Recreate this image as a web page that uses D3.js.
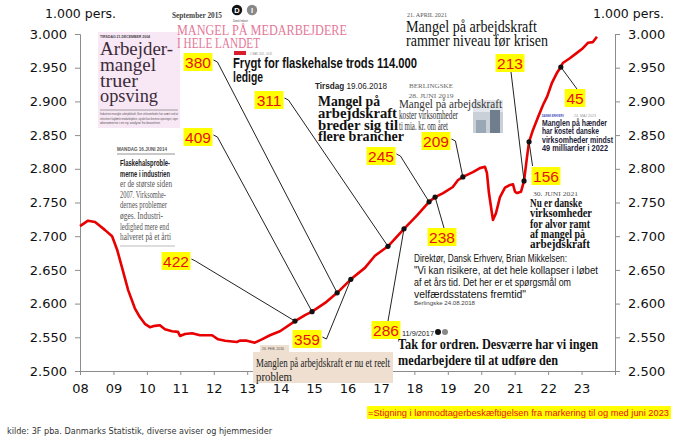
<!DOCTYPE html>
<html>
<head>
<meta charset="utf-8">
<script src="https://cdn.jsdelivr.net/npm/d3@7"></script>
<style>
  body { margin: 0; background: #fff; }
</style>
</head>
<body>
<div id="chart"></div>
<script>
// lønmodtagere, 1.000 pers.
const years = [2008.00, 2008.24, 2008.45, 2008.60, 2008.75, 2008.96, 2009.11, 2009.26, 2009.44, 2009.64, 2009.79, 2009.94,
  2010.09, 2010.24, 2010.39, 2010.54, 2010.75, 2010.93, 2010.99, 2011.14, 2011.35, 2011.59, 2011.95,
  2012.13, 2012.34, 2012.69, 2012.78, 2012.99, 2013.23, 2013.44, 2013.68, 2013.98, 2014.43, 2014.73, 2014.94,
  2015.33, 2015.69, 2016.10, 2016.52, 2016.82, 2017.21, 2017.69, 2018.08, 2018.44, 2018.62, 2018.86,
  2019.15, 2019.30, 2019.45, 2019.75, 2019.96, 2020.11, 2020.17, 2020.23, 2020.32, 2020.35, 2020.44, 2020.56,
  2020.71, 2020.86, 2020.95, 2021.01, 2021.07, 2021.19, 2021.28, 2021.37, 2021.43, 2021.55, 2021.70, 2021.85,
  2021.97, 2022.11, 2022.26, 2022.38, 2022.44, 2022.65, 2022.86, 2023.04, 2023.19, 2023.34, 2023.46];
const values = [2715, 2723, 2721, 2715, 2709, 2700, 2680, 2653, 2620, 2593, 2580, 2570,
  2565, 2567, 2568, 2562, 2559, 2558, 2552, 2555, 2556, 2553, 2553,
  2547, 2545, 2543, 2545, 2545, 2542, 2547, 2553, 2559, 2574, 2583, 2588,
  2601, 2616, 2636, 2653, 2671, 2685, 2711, 2731, 2751, 2758, 2764,
  2773, 2783, 2788, 2795, 2801, 2803, 2794, 2764, 2734, 2724, 2734, 2758,
  2772, 2776, 2777, 2766, 2764, 2766, 2782, 2818, 2840, 2858, 2877, 2895,
  2907, 2927, 2942, 2951, 2957, 2964, 2972, 2979, 2987, 2988, 2996];

// markeringer: stigning fra markering til juni 2023
const markYears  = [2014.43, 2014.94, 2015.69, 2016.10, 2017.21, 2017.69, 2018.44, 2018.62, 2019.45, 2021.28, 2021.43, 2022.38];
const markValues = [2574, 2588, 2616, 2636, 2685, 2711, 2751, 2758, 2788, 2782, 2840, 2951];
const markLabels = ["422", "409", "380", "359", "311", "286", "245", "238", "209", "213", "156", "45"];

const yTicks = [2500, 2550, 2600, 2650, 2700, 2750, 2800, 2850, 2900, 2950, 3000];
const xTicks = [2008, 2009, 2010, 2011, 2012, 2013, 2014, 2015, 2016, 2017, 2018, 2019, 2020, 2021, 2022, 2023];
const xTickLabels = ["08", "09", "10", "11", "12", "13", "14", "15", "16", "17", "18", "19", "20", "21", "22", "23"];

// where the yellow labels sit (pixels) and from which side the leader leaves
const callouts = [
  {cx: 176, cy: 261, side: "r"}, {cx: 198, cy: 137, side: "r"}, {cx: 198, cy: 62, side: "r"},
  {cx: 307, cy: 339, side: "r"}, {cx: 269, cy: 100, side: "r"}, {cx: 386, cy: 330, side: "t"},
  {cx: 381, cy: 156, side: "r"}, {cx: 442, cy: 237, side: "t"}, {cx: 436, cy: 141, side: "r"},
  {cx: 510, cy: 63, side: "b"}, {cx: 546, cy: 176, side: "tl"}, {cx: 575, cy: 98, side: "t"}
];

const W = 680, H = 444;
const margin = {top: 34, right: 65, bottom: 73, left: 80};

const SANS = "'Liberation Sans', Arial, sans-serif";
const NARROW = "'Liberation Sans Narrow', 'Liberation Sans', Arial, sans-serif";
const SERIF = "'Liberation Serif', 'Times New Roman', serif";
const AXISF = "'DejaVu Sans', Verdana, sans-serif";

const svg = d3.select("#chart").append("svg")
  .attr("width", W).attr("height", H)
  .style("background", "#fff");

const x = d3.scaleLinear().domain([2008, 2024]).range([margin.left, W - margin.right]);
const y = d3.scaleLinear().domain([2500, 3000]).range([H - margin.bottom, margin.top]);

const dk = d3.formatLocale({decimal: ",", thousands: ".", grouping: [3], currency: ["", " kr."]});
const fmt = dk.format(",.0f");

// small text helper
function txt(g, tx, ty, s, o) {
  o = o || {};
  const t = g.append("text")
    .attr("x", tx).attr("y", ty)
    .style("font-family", o.font || SANS)
    .style("font-size", (o.size || 10) + "px")
    .style("font-weight", o.weight || "normal")
    .style("fill", o.fill || "#000")
    .attr("text-anchor", o.anchor || "start")
    .text(s);
  if (o.len) t.attr("textLength", o.len).attr("lengthAdjust", "spacingAndGlyphs");
  return t;
}

// ---- axes
const axisColor = "#8c8c8c";

const yl = svg.append("g")
  .attr("transform", `translate(${margin.left},0)`)
  .call(d3.axisLeft(y).tickValues(yTicks).tickFormat(fmt).tickSizeOuter(0).tickSize(5).tickPadding(8));
const yr = svg.append("g")
  .attr("transform", `translate(${W - margin.right},0)`)
  .call(d3.axisRight(y).tickValues(yTicks).tickFormat(fmt).tickSizeOuter(0).tickSize(5).tickPadding(8));
const xa = svg.append("g")
  .attr("transform", `translate(0,${H - margin.bottom})`)
  .call(d3.axisBottom(x).tickValues(xTicks).tickFormat((d, i) => xTickLabels[i]).tickSizeOuter(0).tickSize(4).tickPadding(9));

[yl, yr, xa].forEach(a => {
  a.select(".domain").attr("stroke", axisColor);
  a.selectAll(".tick line").attr("stroke", axisColor);
  a.selectAll("text")
    .style("font-family", AXISF)
    .style("font-size", "13px")
    .style("fill", "#111");
});

txt(svg, 45, 18, "1.000 pers.", {font: AXISF, size: 12.5, fill: "#111"});
txt(svg, 593, 18, "1.000 pers.", {font: AXISF, size: 12.5, fill: "#111"});

// ---- clippings (behind the line)
const clip = svg.append("g");

// Arbejdermangel truer opsving (2004)
clip.append("rect").attr("x", 98).attr("y", 32).attr("width", 82).attr("height", 96).attr("fill", "#f8e7f4");
txt(clip, 100, 37.5, "TIRSDAG 21.DECEMBER 2004", {size: 4, weight: "bold", fill: "#444", len: 50});
const pinkInk = "#3b2c3b";
txt(clip, 100, 55, "Arbejder-", {font: SERIF, size: 19, fill: pinkInk, len: 73});
txt(clip, 100, 71, "mangel", {font: SERIF, size: 19, fill: pinkInk, len: 56});
txt(clip, 100, 87, "truer", {font: SERIF, size: 19, fill: pinkInk, len: 38});
txt(clip, 100, 102, "opsving", {font: SERIF, size: 19, fill: pinkInk, len: 58});
clip.append("line").attr("x1", 100).attr("x2", 178).attr("y1", 110).attr("y2", 110).attr("stroke", "#888").attr("stroke-width", 0.8);
txt(clip, 100, 115, "Industrien mangler arbejdskraft, flere virksomheder har svært ved at", {size: 3.6, fill: "#555", len: 78});
txt(clip, 100, 119.5, "rekruttere faglærte medarbejdere, og det kan bremse opsvinget, siger", {size: 3.6, fill: "#555", len: 78});
txt(clip, 100, 124, "økonomerne i en ny analyse fra branchen", {size: 3.6, fill: "#555", len: 60});

// Flaskehalsproblemerne (2014)
txt(clip, 117, 151, "MANDAG 16.JUNI 2014", {size: 4.5, weight: "bold", fill: "#555", len: 50});
clip.append("line").attr("x1", 117).attr("x2", 175).attr("y1", 154).attr("y2", 154).attr("stroke", "#777").attr("stroke-width", 0.8);
const flask = ["Flaskehalsproble-", "merne i industrien", "er de største siden", "2007. Virksomhe-",
  "dernes problemer", "øges. Industri-", "ledighed mere end", "halveret på et årti"];
const flaskLen = [50, 50, 52, 46, 47, 43, 49, 51];
flask.forEach((s, i) => {
  const bold = i < 2;
  txt(clip, 120, 166 + i * 10.6, s, {font: bold ? NARROW : SERIF, size: 9.5, weight: bold ? "bold" : "normal",
    fill: bold ? "#222" : "#555", len: flaskLen[i]});
});
clip.append("line").attr("x1", 120).attr("x2", 175).attr("y1", 246).attr("y2", 246).attr("stroke", "#aaa").attr("stroke-width", 0.8);

// DI, september 2015
txt(clip, 172, 18, "September 2015", {font: SERIF, size: 8.5, weight: "bold", fill: "#444", len: 50});
clip.append("circle").attr("cx", 237).attr("cy", 10).attr("r", 5.2).attr("fill", "#111");
clip.append("circle").attr("cx", 252).attr("cy", 10).attr("r", 5.2).attr("fill", "#888");
txt(clip, 237, 13, "D", {size: 7.5, weight: "bold", fill: "#fff", anchor: "middle"});
txt(clip, 252, 13, "I", {size: 7.5, weight: "bold", fill: "#fff", anchor: "middle"});
txt(clip, 233, 21.5, "Dansk Industri", {size: 3.5, fill: "#444", len: 15});
txt(clip, 177, 35, "MANGEL PÅ MEDARBEJDERE", {font: SERIF, size: 15, fill: "#e4789a", len: 170});
txt(clip, 177, 48, "I HELE LANDET", {font: SERIF, size: 15, fill: "#e4789a", len: 83});

// Frygt for flaskehalse (2015)
clip.append("rect").attr("x", 234).attr("y", 51).attr("width", 12).attr("height", 4).attr("fill", "#d81e2a");
txt(clip, 250, 55, "2. MAR. 2015 - 16:35", {size: 3.5, fill: "#888", len: 22});
txt(clip, 233, 68, "Frygt for flaskehalse trods 114.000", {font: NARROW, size: 15, weight: "bold", fill: "#111", len: 184});
txt(clip, 233, 82, "ledige", {font: NARROW, size: 15, weight: "bold", fill: "#111", len: 30});

// Tirsdag 19.06.2018
const tg = txt(clip, 315, 88.5, "", {size: 9, fill: "#222"});
tg.append("tspan").style("font-weight", "bold").text("Tirsdag");
tg.append("tspan").text(" 19.06.2018");
tg.attr("textLength", 72).attr("lengthAdjust", "spacingAndGlyphs");
const tirs = ["Mangel på", "arbejdskraft", "breder sig til", "flere brancher"];
const tirsLen = [62, 79, 80, 86];
tirs.forEach((s, i) => txt(clip, 318, 106 + i * 11.8, s, {font: SERIF, size: 15, weight: "bold", fill: "#111", len: tirsLen[i]}));

// Berlingske 28. juni 2019
clip.append("rect").attr("x", 473).attr("y", 100).attr("width", 30).attr("height", 33).attr("fill", "#c9d0d8");
clip.append("rect").attr("x", 473).attr("y", 100).attr("width", 30).attr("height", 12).attr("fill", "#e3e6ea");
clip.append("rect").attr("x", 490).attr("y", 110).attr("width", 10).attr("height", 23).attr("fill", "#6f7d8d");
clip.append("rect").attr("x", 476).attr("y", 120).attr("width", 10).attr("height", 13).attr("fill", "#9aa7b4");
txt(clip, 431, 88, "BERLINGSKE", {font: SERIF, size: 7, fill: "#666", anchor: "middle", len: 44});
txt(clip, 431, 97.5, "28. JUNI 2019", {font: SERIF, size: 7, fill: "#666", anchor: "middle", len: 45});
txt(clip, 399, 107.5, "Mangel på arbejdskraft", {font: SERIF, size: 12, fill: "#333", len: 103});
txt(clip, 399, 118.5, "koster virksomheder", {font: SERIF, size: 12, fill: "#333", len: 59});
txt(clip, 399, 129.5, "ti mia. kr. om året", {font: SERIF, size: 12, fill: "#333", len: 49});

// 21. april 2021
txt(clip, 407, 17, "21. APRIL 2021", {font: SERIF, size: 6, fill: "#555", len: 40});
txt(clip, 406, 32, "Mangel på arbejdskraft", {font: SERIF, size: 16, fill: "#111", len: 131});
txt(clip, 406, 46, "rammer niveau før krisen", {font: SERIF, size: 16, fill: "#111", len: 142});

// Dansk Erhverv 24. maj 2023
txt(clip, 542, 117, "DANSK ERHVERV", {size: 4, weight: "bold", fill: "#3a46b8", len: 22});
txt(clip, 574, 117, "24. MAJ 2023", {size: 4, fill: "#999", len: 22});
const de = ["Manglen på hænder", "har kostet danske", "virksomheder mindst", "49 milliarder i 2022"];
const deLen = [65, 57, 71, 66];
de.forEach((s, i) => txt(clip, 542, 126 + i * 8.3, s, {size: 8.5, weight: "bold", fill: "#1d2238", len: deLen[i]}));

// 30. juni 2021
txt(clip, 533, 196, "30. JUNI 2021", {font: SERIF, size: 6.5, fill: "#555", len: 45});
const nu = ["Nu er danske", "virksomheder", "for alvor ramt", "af mangel på", "arbejdskraft"];
const nuLen = [52, 62, 60, 55, 60];
nu.forEach((s, i) => txt(clip, 530, 207 + i * 10.3, s, {font: SERIF, size: 12.5, weight: "bold", fill: "#111", len: nuLen[i]}));

// Brian Mikkelsen citat
const bm = ["Direktør, Dansk Erhverv, Brian Mikkelsen:", "\"Vi kan risikere, at det hele kollapser i løbet",
  "af et års tid. Det her er et spørgsmål om", "velfærdsstatens fremtid\""];
const bmLen = [153, 184, 157, 112];
bm.forEach((s, i) => txt(clip, 414, 262 + i * 12, s, {size: 10.5, fill: "#111", len: bmLen[i]}));
txt(clip, 414, 305, "Berlingske 24.08.2018", {size: 6, fill: "#444", len: 61});

// DI 11/9/2017
txt(clip, 402, 336, "11/9/2017", {size: 7.5, fill: "#222", len: 32});
clip.append("circle").attr("cx", 438).attr("cy", 332).attr("r", 3).attr("fill", "#111");
clip.append("circle").attr("cx", 445).attr("cy", 332).attr("r", 3).attr("fill", "#888");
txt(clip, 398, 349, "Tak for ordren. Desværre har vi ingen", {font: SERIF, size: 15, weight: "bold", fill: "#111", len: 200});
txt(clip, 398, 365, "medarbejdere til at udføre den", {font: SERIF, size: 15, weight: "bold", fill: "#111", len: 160});

// ---- the series
const line = d3.line()
  .x((d, i) => x(years[i]))
  .y(d => y(d));

svg.append("path")
  .datum(values)
  .attr("fill", "none")
  .attr("stroke", "#e80000")
  .attr("stroke-width", 2.6)
  .attr("stroke-linejoin", "round")
  .attr("d", line);

// tan clipping on top of the axis
const tan = svg.append("g");
tan.append("rect").attr("x", 260).attr("y", 345).attr("width", 29).attr("height", 7).attr("fill", "#eedfd0");
txt(tan, 262, 350, "26. FEB. 2016", {size: 3.5, fill: "#555", len: 22});
tan.append("rect").attr("x", 253).attr("y", 352).attr("width", 140).attr("height", 31).attr("fill", "#eedfd0");
txt(tan, 256, 367, "Manglen på arbejdskraft er nu et reelt", {font: SERIF, size: 13.5, fill: "#222", len: 134});
txt(tan, 256, 381, "problem", {font: SERIF, size: 13.5, fill: "#222", len: 36});

// ---- markers, leaders and yellow labels
const marks = markYears.map((yy, i) => ({year: yy, value: markValues[i], label: markLabels[i], c: callouts[i]}));

const lab = svg.append("g");
marks.forEach(m => {
  const mx = x(m.year), my = y(m.value);
  const w = m.label.length * 8.3 + 4, h = 18;
  const c = m.c;
  let pts;
  if (c.side === "r") pts = [[c.cx + w / 2 + 1, c.cy - 2], [c.cx + w / 2 + 5, c.cy], [mx, my]];
  else if (c.side === "t") pts = [[c.cx + 2, c.cy - h / 2], [mx, my]];
  else if (c.side === "b") pts = [[c.cx + 1, c.cy + h / 2], [mx, my]];
  else pts = [[c.cx - w / 2 + 1, c.cy - h / 2 - 1], [mx, my]];
  lab.append("path")
    .attr("d", d3.line()(pts))
    .attr("fill", "none")
    .attr("stroke", "#222")
    .attr("stroke-width", 1);
  lab.append("circle").attr("cx", mx).attr("cy", my).attr("r", 2.6).attr("fill", "#111");
  lab.append("rect")
    .attr("x", c.cx - w / 2).attr("y", c.cy - h / 2)
    .attr("width", w).attr("height", h)
    .attr("fill", "#ffff00");
  txt(lab, c.cx, c.cy + 5.5, m.label, {size: 15.5, fill: "#e8110f", anchor: "middle"});
});

// ---- footer
txt(svg, 7, 434, "kilde: 3F pba. Danmarks Statistik, diverse aviser og hjemmesider", {font: AXISF, size: 9.5, fill: "#333", len: 265});
svg.append("rect").attr("x", 367).attr("y", 406).attr("width", 304).attr("height", 13).attr("fill", "#ffff00");
txt(svg, 368, 416, "=Stigning i lønmodtagerbeskæftigelsen fra markering til og med juni 2023", {size: 9.5, fill: "#e8110f", len: 301});
</script>
</body>
</html>
